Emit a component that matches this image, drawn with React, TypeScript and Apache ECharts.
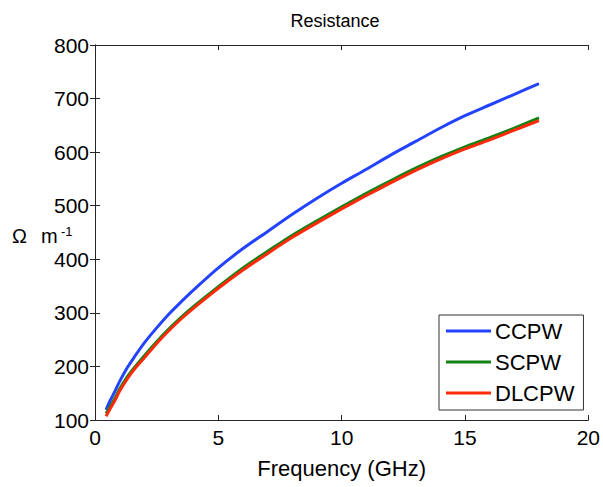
import React, { useEffect, useRef } from "react";
import * as echarts from "echarts";

const freq = [0.45, 0.6, 0.8, 1, 1.3, 1.6, 2, 2.5, 3, 3.5, 4, 5, 6, 7, 8, 9, 10, 11, 12, 13, 14, 15, 16, 17, 18];
const ccpw = [119, 135, 153, 172, 197, 218, 244, 272, 298, 321, 343, 384, 420, 452, 484, 514, 542, 568, 595, 620, 645, 668, 688, 708, 728];
const scpw = [112, 124, 140, 158, 180, 198, 220, 246, 270, 292, 312, 349, 384, 415, 445, 472, 498, 523, 547, 570, 591, 610, 627, 645, 664];
const dlcpw = [107, 120, 136, 154, 176, 195, 216, 243, 267, 289, 309, 346, 380, 411, 441, 468, 494, 519, 543, 566, 587, 606, 623, 641, 659];
const seriesNames = ["CCPW", "SCPW", "DLCPW"];
const seriesColors = ["#2443ff", "#128212", "#ff2a0c"];
const xTicks = [0, 5, 10, 15, 20];
const yTicks = [100, 200, 300, 400, 500, 600, 700, 800];

const FONT = "Liberation Sans, Arial, sans-serif";

export default function App() {
  const ref = useRef<HTMLDivElement>(null);
  useEffect(() => {
    if (!ref.current) return;
    const chart = echarts.init(ref.current, undefined, { renderer: "svg" });
    const values = [ccpw, scpw, dlcpw];
    const axisLine = { show: true, lineStyle: { color: "#262626", width: 1 } };
    const tick = { show: true, inside: true, length: 5, lineStyle: { color: "#262626" } };
    chart.setOption({
      animation: false,
      backgroundColor: "#fff",
      textStyle: { fontFamily: FONT },
      grid: { left: 95, right: 14, top: 45, bottom: 67, containLabel: false },
      xAxis: [
        {
          type: "value", min: xTicks[0], max: xTicks[xTicks.length - 1], interval: 5,
          axisLine, axisTick: tick, splitLine: { show: false },
          axisLabel: { color: "#000", fontSize: 21, margin: 7, fontFamily: FONT },
          name: "Frequency (GHz)", nameLocation: "middle", nameGap: 37,
          nameTextStyle: { color: "#000", fontSize: 22, fontFamily: FONT },
        },
        {
          type: "value", position: "top", min: 0, max: 20, interval: 5,
          axisLine, axisTick: tick, axisLabel: { show: false }, splitLine: { show: false },
        },
      ],
      yAxis: [
        {
          type: "value", min: yTicks[0], max: yTicks[yTicks.length - 1], interval: 100,
          axisLine, axisTick: tick, splitLine: { show: false },
          axisLabel: { color: "#000", fontSize: 21, margin: 6, fontFamily: FONT },
        },
        {
          type: "value", position: "right", min: 100, max: 800, interval: 100,
          axisLine, axisTick: tick, axisLabel: { show: false }, splitLine: { show: false },
        },
      ],
      title: {
        text: "Resistance", left: 330, top: 7, textAlign: "center",
        textStyle: { color: "#000", fontSize: 18, fontWeight: "normal", fontFamily: FONT },
      },
      legend: {
        data: seriesNames, orient: "vertical", left: 439, top: 315,
        icon: "rect", itemWidth: 45, itemHeight: 3, itemGap: 9,
        padding: [5, 9, 6, 7], borderColor: "#333", borderWidth: 1, backgroundColor: "#fff",
        textStyle: { color: "#000", fontSize: 22, fontFamily: FONT, padding: [0, 0, 0, -1] },
      },
      graphic: [
        { type: "text", x: 12, y: 236, style: { text: "Ω", fontSize: 20, fontFamily: FONT, fill: "#000", verticalAlign: "middle" } },
        { type: "text", x: 41, y: 236, style: { text: "m", fontSize: 20, fontFamily: FONT, fill: "#000", verticalAlign: "middle" } },
        { type: "text", x: 61, y: 231, style: { text: "-1", fontSize: 13, fontFamily: FONT, fill: "#000", verticalAlign: "middle" } },
      ],
      series: seriesNames.map((name, i) => ({
        name, type: "line", xAxisIndex: 0, yAxisIndex: 0,
        data: freq.map((f, j) => [f, values[i][j]]),
        showSymbol: false, symbol: "none", smooth: 0.3,
        lineStyle: { color: seriesColors[i], width: 3 },
        itemStyle: { color: seriesColors[i] },
      })),
    });
    return () => chart.dispose();
  }, []);
  return <div ref={ref} style={{ width: 603, height: 487, position: "absolute", left: 0, top: 0 }} />;
}
